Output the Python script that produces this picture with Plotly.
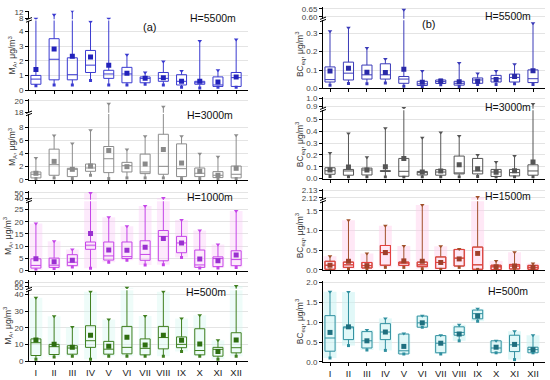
import plotly.graph_objects as go

months = ["I", "II", "III", "IV", "V", "VI", "VII", "VIII", "IX", "X", "XI", "XII"]
pos = list(range(1, 13))

# ---------- (a) M_A, ug/m3 ----------
ma5500_min = [0.3, 0.35, 0.35, 0.65, 0.35, 0.35, 0.4, 0.35, 0.2, 0.15, 0.2, 0.2]
ma5500_q1 = [0.4, 0.7, 0.7, 1.2, 0.8, 0.5, 0.5, 0.6, 0.35, 0.4, 0.25, 0.25]
ma5500_med = [0.75, 2.1, 1.05, 1.7, 1.1, 1.1, 0.8, 0.8, 0.6, 0.5, 0.35, 0.85]
ma5500_q3 = [1.0, 3.5, 2.2, 2.7, 1.35, 1.55, 0.9, 1.2, 1.05, 0.6, 0.9, 1.2]
ma5500_max = [8.0, 10.3, 12.5, 4.65, 8.0, 2.4, 1.2, 1.95, 1.3, 3.35, 1.35, 3.45]
ma5500_mean = [1.4, 2.8, 2.3, 2.25, 1.7, 1.15, 0.8, 0.85, 0.6, 0.6, 0.55, 0.9]

ma3000_min = [0.2, 0.3, 0.2, 0.7, 0.2, 0.3, 0.3, 0.3, 0.2, 0.2, 0.2, 0.2]
ma3000_q1 = [0.3, 0.7, 0.5, 1.3, 1.1, 1.2, 0.95, 0.85, 0.5, 0.5, 0.35, 0.3]
ma3000_med = [0.85, 2.3, 1.6, 1.8, 3.2, 2.15, 1.2, 2.05, 1.7, 1.0, 0.7, 0.85]
ma3000_q3 = [1.2, 4.65, 1.75, 2.4, 5.05, 2.65, 3.9, 6.9, 5.45, 1.8, 1.25, 2.1]
ma3000_max = [3.3, 6.7, 5.5, 7.5, 19.5, 4.6, 6.6, 19.0, 6.6, 3.95, 3.5, 6.75]
ma3000_mean = [1.0, 2.8, 1.6, 2.1, 4.45, 2.0, 2.4, 4.6, 2.55, 1.3, 0.7, 1.75]

ma1000_min = [0.2, 0.8, 1.5, 0.9, 3.4, 4.2, 2.3, 2.4, 5.3, 1.0, 1.0, 1.3]
ma1000_q1 = [1.0, 1.3, 2.0, 8.7, 4.3, 4.9, 4.2, 4.0, 7.3, 1.3, 1.6, 2.0]
ma1000_med = [2.1, 2.2, 3.4, 10.4, 6.0, 5.7, 6.6, 14.0, 11.3, 2.3, 4.9, 4.5]
ma1000_q3 = [4.8, 5.1, 6.5, 11.7, 11.7, 11.7, 12.2, 16.4, 14.0, 8.4, 5.6, 8.1]
ma1000_max = [19.3, 12.0, 8.6, 50.0, 21.8, 18.2, 26.5, 40.0, 20.7, 16.4, 10.7, 24.4]
ma1000_mean = [4.8, 3.6, 4.2, 15.2, 8.4, 8.3, 9.5, 13.1, 11.3, 4.7, 4.0, 6.4]

ma500_min = [1.0, 2.4, 2.9, 1.0, 2.9, 2.9, 2.9, 2.9, 5.7, 2.9, 1.0, 2.9]
ma500_q1 = [3.3, 3.9, 4.1, 8.2, 4.1, 4.3, 3.7, 7.3, 8.0, 3.7, 2.9, 4.9]
ma500_med = [11.0, 8.6, 7.8, 12.2, 7.1, 8.2, 7.6, 14.1, 10.0, 6.3, 7.0, 8.0]
ma500_q3 = [13.3, 10.0, 9.2, 21.2, 11.8, 20.8, 13.3, 20.8, 14.5, 19.4, 8.2, 17.0]
ma500_max = [38.0, 26.9, 20.4, 41.6, 24.9, 54.0, 27.0, 41.6, 25.5, 27.5, 12.5, 56.0]
ma500_mean = [12.7, 10.0, 8.2, 15.5, 8.8, 14.3, 9.6, 15.5, 12.5, 10.2, 5.7, 12.7]

# ---------- (b) BC_eq, ug/m3 ----------
bc5500_min = [0.018, 0.027, 0.025, 0.03, 0.012, 0.007, 0.02, 0.01, 0.021, 0.021, 0.025, 0.021]
bc5500_q1 = [0.035, 0.046, 0.051, 0.051, 0.028, 0.016, 0.027, 0.018, 0.028, 0.035, 0.035, 0.032]
bc5500_med = [0.048, 0.083, 0.074, 0.074, 0.051, 0.025, 0.037, 0.028, 0.046, 0.053, 0.06, 0.053]
bc5500_q3 = [0.117, 0.143, 0.127, 0.134, 0.065, 0.039, 0.046, 0.039, 0.057, 0.071, 0.078, 0.101]
bc5500_max = [0.31, 0.33, 0.22, 0.16, 0.645, 0.095, 0.048, 0.138, 0.081, 0.095, 0.131, 0.354]
bc5500_mean = [0.095, 0.11, 0.088, 0.087, 0.104, 0.034, 0.039, 0.037, 0.039, 0.048, 0.065, 0.096]

bc3000_min = [0.017, 0.013, 0.013, 0.013, 0.011, 0.013, 0.013, 0.013, 0.017, 0.011, 0.013, 0.013]
bc3000_q1 = [0.036, 0.028, 0.03, 0.06, 0.019, 0.03, 0.028, 0.039, 0.039, 0.017, 0.022, 0.028]
bc3000_med = [0.066, 0.064, 0.072, 0.064, 0.061, 0.05, 0.055, 0.04, 0.064, 0.055, 0.05, 0.064]
bc3000_q3 = [0.091, 0.077, 0.088, 0.066, 0.17, 0.06, 0.075, 0.19, 0.17, 0.077, 0.077, 0.116]
bc3000_max = [0.215, 0.38, 0.18, 0.425, 0.88, 0.345, 0.39, 0.36, 0.2, 0.14, 0.19, 0.93]
bc3000_mean = [0.072, 0.097, 0.072, 0.1, 0.17, 0.055, 0.064, 0.116, 0.083, 0.053, 0.066, 0.14]

bc1500_min = [0.0, 0.025, 0.015, 0.066, 0.066, 0.03, 0.015, 0.066, 0.015, 0.005, 0.01, 0.01]
bc1500_q1 = [0.017, 0.066, 0.05, 0.12, 0.116, 0.083, 0.04, 0.1, 0.017, 0.01, 0.025, 0.017]
bc1500_med = [0.12, 0.13, 0.11, 0.44, 0.18, 0.13, 0.19, 0.3, 0.13, 0.08, 0.1, 0.066]
bc1500_q3 = [0.22, 0.2, 0.19, 0.62, 0.2, 0.2, 0.33, 0.52, 0.58, 0.12, 0.14, 0.116]
bc1500_max = [0.35, 1.26, 0.42, 1.12, 0.61, 1.645, 0.6, 0.53, 2.121, 0.23, 0.45, 0.165]
bc1500_mean = [0.12, 0.22, 0.11, 0.44, 0.23, 0.22, 0.19, 0.28, 0.42, 0.08, 0.1, 0.066]

bc500_min = [0.1, 0.41, 0.3, 0.29, 0.2, 0.87, 0.2, 0.53, 1.02, 0.23, 0.06, 0.23]
bc500_q1 = [0.27, 0.56, 0.35, 0.56, 0.2, 0.87, 0.23, 0.67, 1.08, 0.23, 0.26, 0.23]
bc500_med = [0.6, 0.86, 0.53, 0.75, 0.28, 0.98, 0.47, 0.74, 1.21, 0.35, 0.43, 0.31]
bc500_q3 = [1.16, 0.88, 0.76, 0.96, 0.7, 1.15, 0.66, 0.88, 1.3, 0.53, 0.67, 0.37]
bc500_max = [1.76, 1.75, 0.8, 1.09, 0.71, 1.16, 0.67, 0.93, 1.33, 0.53, 0.77, 0.67]
bc500_mean = [0.74, 0.88, 0.53, 0.75, 0.39, 0.98, 0.47, 0.7, 1.15, 0.37, 0.44, 0.31]

# ---------- layout helpers ----------
FONT = "Arial, Liberation Sans, sans-serif"
W, H = 550, 380


def py(p):
    return 1 - p / H


def px(p):
    return p / W


fig = go.Figure()
lay = dict(width=W, height=H, margin=dict(l=0, r=0, t=0, b=0),
           paper_bgcolor="white", plot_bgcolor="rgba(0,0,0,0)",
           showlegend=False, boxmode="overlay", barmode="overlay",
           font=dict(family=FONT, size=8, color="#333"))
shapes, annos = [], []
cnt = {"x": 0, "y": 0}


def nm(kind, n):
    return kind if n == 1 else f"{kind}{n}"


def panel(xdom, segs, stats, sty, xlabels, ytitle, label, lpos):
    mn, q1, med, q3, mx, mean = stats
    cnt["x"] += 1
    xa = nm("x", cnt["x"])
    yas = []
    for _ in segs:
        cnt["y"] += 1
        yas.append(nm("y", cnt["y"]))
    lay["xaxis" + xa[1:]] = dict(
        domain=[px(xdom[0]), px(xdom[1])], range=[0.62, 12.65], anchor=yas[0],
        tickvals=pos, ticktext=months, showticklabels=xlabels,
        ticks="outside", ticklen=3, tickcolor="#000", showline=True,
        linecolor="#000", linewidth=1, showgrid=False, zeroline=False,
        tickfont=dict(size=9.5, color="#222"))
    for i, (tp, bp, rng, tv, fmt) in enumerate(segs):
        ya = yas[i]
        d = dict(domain=[py(bp), py(tp)], range=rng, anchor=xa, tickvals=tv,
                 tickformat=fmt, ticks="outside", ticklen=3, tickcolor="#000",
                 showline=True, linecolor="#000", linewidth=1, showgrid=True,
                 gridcolor="#e4e4e4", gridwidth=0.8, zeroline=False,
                 tickfont=dict(size=8, color="#444"))
        if i == 0:
            d["title"] = dict(text=ytitle, font=dict(size=8.5, color="#333"), standoff=1)
        lay["yaxis" + ya[1:]] = d
        if sty.get("shade"):
            fig.add_trace(go.Bar(x=pos, base=mn, y=[b - a for a, b in zip(mn, mx)],
                                 width=0.7, marker=dict(color=sty["shade"], line_width=0),
                                 xaxis=xa, yaxis=ya, hoverinfo="skip"))
        fig.add_trace(go.Box(x=pos, q1=q1, median=med, q3=q3, lowerfence=mn,
                             upperfence=mx, orientation="v", width=0.55,
                             line=dict(color=sty["whisk"], width=1),
                             fillcolor="rgba(0,0,0,0)", whiskerwidth=0,
                             boxpoints=False, xaxis=xa, yaxis=ya, hoverinfo="skip"))
        if sty["box"] != sty["whisk"]:
            fig.add_trace(go.Box(x=pos, q1=q1, median=med, q3=q3, lowerfence=q1,
                                 upperfence=q3, orientation="v", width=0.55,
                                 line=dict(color=sty["box"], width=1),
                                 fillcolor="rgba(0,0,0,0)", whiskerwidth=0,
                                 boxpoints=False, xaxis=xa, yaxis=ya, hoverinfo="skip"))
        fig.add_trace(go.Scatter(x=pos, y=mx, mode="markers", xaxis=xa, yaxis=ya,
                                 marker=dict(symbol="triangle-down", size=4, color=sty["whisk"]),
                                 hoverinfo="skip"))
        fig.add_trace(go.Scatter(x=pos, y=mn, mode="markers", xaxis=xa, yaxis=ya,
                                 marker=dict(symbol="square", size=3, color=sty["whisk"]),
                                 hoverinfo="skip"))
        fig.add_trace(go.Scatter(x=pos, y=mean, mode="markers", xaxis=xa, yaxis=ya,
                                 marker=dict(symbol="square", size=5, color=sty["mean"]),
                                 hoverinfo="skip"))
    if len(segs) > 1:
        yb = (segs[0][0] + segs[1][1]) / 2
        x0 = xdom[0]
        for dy in (-1.2, 1.2):
            shapes.append(dict(type="line", xref="paper", yref="paper",
                               x0=px(x0 - 3), y0=py(yb + dy + 1.2),
                               x1=px(x0 + 3), y1=py(yb + dy - 1.2),
                               line=dict(color="#000", width=1)))
    annos.append(dict(text=label, x=px(lpos[0]), y=py(lpos[1]), xref="paper",
                      yref="paper", showarrow=False, xanchor="center",
                      yanchor="middle", font=dict(size=10.5, color="#111")))


LX = (29, 248)
RX = (323, 545)
MA_T = "M<sub>A</sub>, μg/m<sup>3</sup>"
BC_T = "BC<sub>eq</sub>, μg/m<sup>3</sup>"

st_b = dict(box="#3a3ad0", whisk="#3a3ad0", mean="#2222bb")
st_g = dict(box="#8c8c8c", whisk="#8c8c8c", mean="#8a8a8a")
st_m = dict(box="#c545e8", whisk="#c545e8", mean="#9a30d0", shade="rgba(250,195,245,0.35)")
st_gr = dict(box="#3f7f1f", whisk="#3f7f1f", mean="#2e6e10", shade="rgba(205,245,238,0.35)")
st_rb = dict(box="#3a3ab8", whisk="#3a3ab8", mean="#2a2aa8")
st_rg = dict(box="#555555", whisk="#555555", mean="#555555")
st_r = dict(box="#e84040", whisk="#a0502a", mean="#a0402a", shade="rgba(255,205,235,0.45)")
st_c = dict(box="#2f8f9f", whisk="#2f8f9f", mean="#1f6f7f", shade="rgba(200,242,242,0.55)")

panel(LX, [(18, 89, [0, 4.73], [0, 1, 2, 3, 4], "d"),
           (8, 16.5, [7.7, 12.57], [8, 12], "d")],
      (ma5500_min, ma5500_q1, ma5500_med, ma5500_q3, ma5500_max, ma5500_mean),
      st_b, False, MA_T, "H=5500m", (213, 15))
panel(LX, [(113.5, 180.7, [0, 9.95], [0, 2, 4, 6, 8], "d"),
           (98, 112, [17.95, 20.35], [18, 20], "d")],
      (ma3000_min, ma3000_q1, ma3000_med, ma3000_q3, ma3000_max, ma3000_mean),
      st_g, False, MA_T, "H=3000m", (210, 114))
panel(LX, [(202.5, 273.3, [0, 28.4], [0, 5, 10, 15, 20, 25], "d"),
           (192, 201, [36.8, 53.8], [40, 50], "d")],
      (ma1000_min, ma1000_q1, ma1000_med, ma1000_q3, ma1000_max, ma1000_mean),
      st_m, False, MA_T, "H=1000m", (210, 198))
panel(LX, [(293.5, 365.7, [0, 42.5], [0, 10, 20, 30, 40], "d"),
           (283, 292, [53, 62], [55, 60], "d")],
      (ma500_min, ma500_q1, ma500_med, ma500_q3, ma500_max, ma500_mean),
      st_gr, True, MA_T, "H=500m", (206, 295))

panel(RX, [(17.5, 87.3, [0, 0.371], [0, 0.1, 0.2, 0.3], ".1f"),
           (4, 16, [0.5875, 0.6625], [0.6, 0.65], ".2f")],
      (bc5500_min, bc5500_q1, bc5500_med, bc5500_q3, bc5500_max, bc5500_mean),
      st_rb, False, BC_T, "H=5500m", (508, 13))
panel(RX, [(109.5, 179.3, [0, 0.578], [0, 0.1, 0.2, 0.3, 0.4, 0.5], ".1f"),
           (96, 108, [0.8724, 1.0164], [0.9, 1.0], ".1f")],
      (bc3000_min, bc3000_q1, bc3000_med, bc3000_q3, bc3000_max, bc3000_mean),
      st_rg, False, BC_T, "H=3000m", (508, 106))
panel(RX, [(202.5, 272.7, [0, 1.742], [0, 0.5, 1.0, 1.5], ".1f"),
           (190, 201, [2.11727, 2.13228], [2.12, 2.13], ".2f")],
      (bc1500_min, bc1500_q1, bc1500_med, bc1500_q3, bc1500_max, bc1500_mean),
      st_r, False, BC_T, "H=1500m", (508, 197))
panel(RX, [(284, 366.7, [0, 2.027], [0, 0.5, 1.0, 1.5, 2.0], ".1f")],
      (bc500_min, bc500_q1, bc500_med, bc500_q3, bc500_max, bc500_mean),
      st_c, True, BC_T, "H=500m", (508, 294))

annos.append(dict(text="(a)", x=px(141), y=py(16), xref="paper", yref="paper",
                  showarrow=False, font=dict(size=11, color="#111")))
annos.append(dict(text="(b)", x=px(437), y=py(13), xref="paper", yref="paper",
                  showarrow=False, font=dict(size=11, color="#111")))

lay["shapes"] = shapes
lay["annotations"] = annos
fig.update_layout(**lay)
fig.write_html("out.html", config={"displayModeBar": False},
               post_script="document.body.style.margin='0';document.body.style.overflow='hidden';")
